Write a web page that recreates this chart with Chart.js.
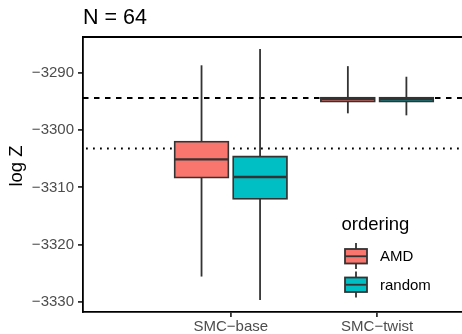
<!DOCTYPE html>
<html>
<head>
<meta charset="utf-8">
<script src="https://cdn.jsdelivr.net/npm/chart.js@4"></script>
<style>
  html, body { margin: 0; padding: 0; background: #fff; }
  #wrap { width: 462px; height: 334px; position: relative; }
</style>
</head>
<body>
<div id="wrap"><canvas id="boxChart"></canvas></div>
<script>
// Data
const categories = ['SMC\u2212base', 'SMC\u2212twist'];
const orderings = ['AMD', 'random'];
const fillColors = ['#F8766D', '#00BFC4'];

const amdMin = [-3325.6, -3297.05];
const amdQ1 = [-3308.4, -3295.1];
const amdMedian = [-3305.1, -3294.55];
const amdQ3 = [-3301.9, -3294.2];
const amdMax = [-3288.65, -3288.8];

const randomMin = [-3329.7, -3297.4];
const randomQ1 = [-3312.1, -3295.1];
const randomMedian = [-3308.2, -3294.6];
const randomQ3 = [-3304.5, -3294.2];
const randomMax = [-3285.8, -3290.65];

const yTicks = [-3330, -3320, -3310, -3300, -3290];
const dashedRef = -3294.37;
const dottedRef = -3303.2;

const stats = [
    { min: amdMin, q1: amdQ1, med: amdMedian, q3: amdQ3, max: amdMax, shift: -0.2 },
    { min: randomMin, q1: randomQ1, med: randomMedian, q3: randomQ3, max: randomMax, shift: 0.2 }
];

const FONT = "'Liberation Sans', Arial, sans-serif";
const LINE = '#333333';
const LW = 1.8;

// reference lines, whiskers, medians, title and legend
const boxParts = {
    id: 'boxParts',
    beforeDatasetsDraw(chart) {
        const ctx = chart.ctx;
        const area = chart.chartArea;
        const x = chart.scales.x, y = chart.scales.y;
        ctx.save();
        ctx.strokeStyle = '#000';
        ctx.lineWidth = LW;
        ctx.lineCap = 'butt';
        ctx.setLineDash([5.5, 5.5]);
        ctx.beginPath();
        ctx.moveTo(area.left, y.getPixelForValue(dashedRef));
        ctx.lineTo(area.right, y.getPixelForValue(dashedRef));
        ctx.stroke();
        ctx.setLineDash([1.8, 5.2]);
        ctx.beginPath();
        ctx.moveTo(area.left + 3, y.getPixelForValue(dottedRef));
        ctx.lineTo(area.right, y.getPixelForValue(dottedRef));
        ctx.stroke();
        ctx.setLineDash([]);

        // whiskers
        ctx.strokeStyle = LINE;
        stats.forEach(s => {
            categories.forEach((c, i) => {
                const px = x.getPixelForValue(i + 1 + s.shift);
                ctx.beginPath();
                ctx.moveTo(px, y.getPixelForValue(s.max[i]));
                ctx.lineTo(px, y.getPixelForValue(s.min[i]));
                ctx.stroke();
            });
        });
        ctx.restore();
    },
    afterDatasetsDraw(chart) {
        const ctx = chart.ctx;
        const x = chart.scales.x, y = chart.scales.y;
        const half = 27.5;
        ctx.save();
        ctx.strokeStyle = LINE;
        ctx.lineWidth = 2.4;
        stats.forEach(s => {
            categories.forEach((c, i) => {
                const px = x.getPixelForValue(i + 1 + s.shift);
                const py = y.getPixelForValue(s.med[i]);
                ctx.beginPath();
                ctx.moveTo(px - half + 1, py);
                ctx.lineTo(px + half - 1, py);
                ctx.stroke();
            });
        });
        ctx.restore();
    },
    afterDraw(chart) {
        const ctx = chart.ctx;
        const area = chart.chartArea;
        ctx.save();
        // top panel line
        ctx.strokeStyle = '#000';
        ctx.lineWidth = LW;
        ctx.beginPath();
        ctx.moveTo(area.left - 0.9, area.top);
        ctx.lineTo(area.right, area.top);
        ctx.stroke();

        // title
        ctx.fillStyle = '#000';
        ctx.textAlign = 'left';
        ctx.textBaseline = 'alphabetic';
        ctx.font = '21.5px ' + FONT;
        ctx.fillText('N = 64', 83, 23.5);

        // y axis title
        ctx.save();
        ctx.translate(21.5, 166);
        ctx.rotate(-Math.PI / 2);
        ctx.textAlign = 'center';
        ctx.font = '18.5px ' + FONT;
        ctx.fillText('log Z', 0, 0);
        ctx.restore();

        // legend
        ctx.font = '18.5px ' + FONT;
        ctx.fillText('ordering', 341.5, 230);
        const keyTops = [249, 277.5];
        orderings.forEach((o, k) => {
            const top = keyTops[k];
            ctx.strokeStyle = LINE;
            ctx.lineWidth = LW;
            ctx.beginPath();
            ctx.moveTo(356, top - 6);
            ctx.lineTo(356, top + 20);
            ctx.stroke();
            ctx.fillStyle = fillColors[k];
            ctx.fillRect(345, top, 22, 14.5);
            ctx.strokeRect(345, top, 22, 14.5);
            ctx.beginPath();
            ctx.moveTo(345, top + 7.25);
            ctx.lineTo(367, top + 7.25);
            ctx.stroke();
            ctx.fillStyle = '#000';
            ctx.font = '15px ' + FONT;
            ctx.textBaseline = 'middle';
            ctx.fillText(o, 380, top + 8);
            ctx.textBaseline = 'alphabetic';
        });
        ctx.restore();
    }
};

const datasets = orderings.map((o, k) => ({
    label: o,
    data: categories.map((c, i) => ({ x: i + 1 + stats[k].shift, y: [stats[k].q1[i], stats[k].q3[i]] })),
    backgroundColor: fillColors[k],
    borderColor: LINE,
    borderWidth: LW,
    borderSkipped: false,
    barThickness: 55,
    grouped: false
}));

new Chart(document.getElementById('boxChart').getContext('2d'), {
    type: 'bar',
    data: { datasets: datasets },
    options: {
        responsive: true,
        maintainAspectRatio: false,
        animation: false,
        devicePixelRatio: 1,
        layout: { padding: { top: 37, left: 0, right: 0, bottom: 0 } },
        plugins: {
            legend: { display: false },
            tooltip: { enabled: false },
            title: { display: false }
        },
        scales: {
            x: {
                type: 'linear',
                offset: false,
                min: -0.01,
                max: 2.58,
                afterBuildTicks: axis => { axis.ticks = [{ value: 1 }, { value: 2 }]; },
                afterFit: axis => { axis.height = 22; },
                grid: { display: true, offset: false, drawOnChartArea: false, drawTicks: true, tickLength: 5, color: LINE, lineWidth: LW },
                border: { display: true, color: '#000', width: LW },
                ticks: {
                    autoSkip: false,
                    maxRotation: 0,
                    padding: 1,
                    color: '#4D4D4D',
                    font: { family: FONT, size: 15 },
                    callback: v => categories[v - 1]
                }
            },
            y: {
                type: 'linear',
                min: -3331.8,
                max: -3283.7,
                afterBuildTicks: axis => { axis.ticks = yTicks.map(v => ({ value: v })); },
                afterFit: axis => { axis.width = 83; },
                grid: { display: true, drawOnChartArea: false, drawTicks: true, tickLength: 5, color: LINE, lineWidth: LW },
                border: { display: true, color: '#000', width: LW },
                ticks: {
                    padding: 4,
                    color: '#4D4D4D',
                    font: { family: FONT, size: 15 },
                    callback: v => String(v).replace('-', '\u2212')
                }
            }
        }
    },
    plugins: [boxParts]
});
</script>
</body>
</html>
